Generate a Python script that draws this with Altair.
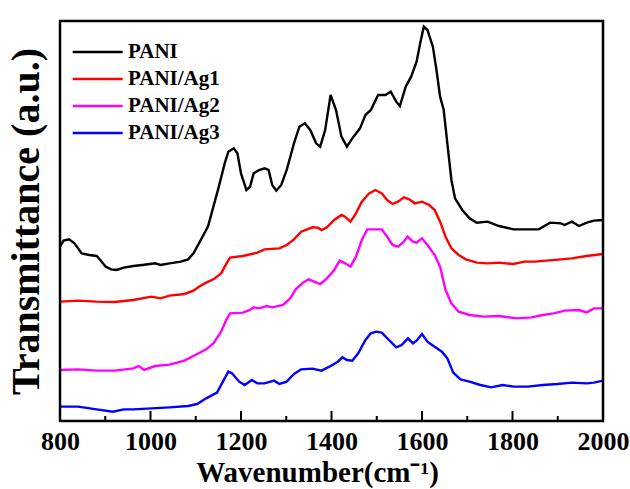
import altair as alt
import pandas as pd

FONT = "Liberation Serif"

series = ["PANI", "PANI/Ag1", "PANI/Ag2", "PANI/Ag3"]
colors = ["#000000", "#ff0000", "#ff00ff", "#0000ff"]

# PANI (black)
wn_pani = [800, 808, 820, 832, 848, 865, 881, 889, 901, 913, 925, 941, 962, 982, 1010, 1022, 1042, 1067,
           1083, 1095, 1111, 1127, 1139, 1151, 1164, 1172, 1184, 1192, 1200, 1212, 1220, 1228, 1240, 1252,
           1261, 1269, 1278, 1289, 1301, 1317, 1329, 1341, 1353, 1366, 1375, 1386, 1398, 1410, 1422, 1434,
           1446, 1463, 1475, 1487, 1503, 1519, 1531, 1543, 1551, 1564, 1576, 1588, 1596, 1604, 1612, 1624,
           1632, 1640, 1648, 1656, 1665, 1673, 1689, 1705, 1721, 1745, 1770, 1802, 1834, 1858, 1883, 1907,
           1915, 1931, 1947, 1964, 1980, 2000]
t_pani = [510, 528, 532, 520, 490, 485, 482, 470, 450, 442, 440, 447, 452, 455, 460, 455, 460, 465,
          472, 490, 530, 570, 630, 690, 760, 795, 805, 790, 730, 680, 690, 730, 740, 745,
          740, 695, 678, 695, 740, 820, 870, 880, 860, 820, 810, 860, 965, 920, 840, 810,
          835, 865, 905, 920, 965, 965, 975, 945, 932, 990, 1020, 1065, 1120, 1170, 1160, 1110,
          1040, 960, 920, 820, 710, 655, 620, 595, 582, 585, 572, 562, 562, 562, 582, 580,
          575, 585, 572, 582, 588, 590]

# PANI/Ag1 (red)
wn_ag1 = [800, 840, 881, 921, 962, 1002, 1022, 1042, 1075, 1095, 1107, 1123, 1139, 1156, 1168, 1176,
          1204, 1236, 1252, 1285, 1301, 1317, 1333, 1358, 1370, 1378, 1390, 1406, 1422, 1430, 1442, 1454,
          1467, 1483, 1497, 1511, 1523, 1535, 1547, 1560, 1572, 1584, 1600, 1616, 1628, 1640, 1652, 1665,
          1681, 1697, 1721, 1745, 1770, 1802, 1826, 1850, 1875, 1907, 1931, 1964, 2000]
t_ag1 = [345, 348, 345, 344, 350, 360, 355, 363, 368, 378, 390, 402, 412, 430, 460, 477,
         482, 492, 502, 505, 515, 532, 555, 568, 567, 560, 568, 590, 605, 600, 585, 610,
         645, 670, 680, 670, 650, 638, 645, 658, 652, 640, 645, 635, 620, 585, 540, 505,
         485, 472, 462, 460, 462, 458, 465, 465, 468, 472, 475, 482, 488]

# PANI/Ag2 (magenta)
wn_ag2 = [800, 840, 881, 921, 962, 974, 986, 1010, 1042, 1075, 1099, 1123, 1139, 1156, 1168, 1176,
          1204, 1220, 1228, 1240, 1257, 1269, 1293, 1309, 1321, 1337, 1349, 1362, 1375, 1390, 1406, 1418,
          1430, 1442, 1454, 1467, 1479, 1495, 1511, 1523, 1535, 1547, 1560, 1568, 1580, 1588, 1600, 1612,
          1628, 1640, 1652, 1665, 1681, 1705, 1737, 1770, 1810, 1842, 1867, 1891, 1915, 1947, 1964, 1980, 2000]
t_ag2 = [140, 142, 138, 138, 145, 152, 140, 152, 156, 168, 185, 202, 220, 255, 292, 310,
         312, 320, 328, 325, 332, 328, 335, 355, 382, 402, 412, 405, 398, 415, 440, 468,
         460, 450, 480, 530, 562, 562, 562, 540, 515, 510, 525, 540, 525, 522, 535, 515,
         485, 450, 380, 340, 315, 305, 300, 302, 295, 298, 305, 310, 318, 320, 313, 325, 325]

# PANI/Ag3 (blue)
wn_ag3 = [800, 840, 881, 917, 941, 962, 1002, 1042, 1083, 1103, 1123, 1147, 1160, 1172, 1180, 1196,
          1208, 1224, 1236, 1252, 1273, 1285, 1301, 1317, 1333, 1358, 1378, 1398, 1414, 1424, 1434, 1446,
          1459, 1475, 1487, 1499, 1511, 1527, 1543, 1555, 1569, 1580, 1588, 1600, 1612, 1628, 1644, 1656,
          1669, 1685, 1705, 1729, 1753, 1778, 1802, 1834, 1867, 1899, 1931, 1964, 1980, 2000]
t_ag3 = [30, 30, 22, 15, 22, 22, 25, 28, 32, 38, 55, 72, 105, 135, 130, 105,
         95, 110, 100, 100, 108, 98, 105, 128, 142, 144, 138, 152, 165, 178, 170, 168,
         190, 230, 250, 255, 252, 230, 208, 215, 235, 220, 228, 248, 225, 210, 195, 175,
         132, 112, 105, 95, 88, 95, 90, 90, 95, 98, 102, 100, 102, 108]

major_ticks = [800, 1000, 1200, 1400, 1600, 1800, 2000]
minor_ticks = [900, 1100, 1300, 1500, 1700, 1900]

rows = []
for name, xs, ys in zip(series, [wn_pani, wn_ag1, wn_ag2, wn_ag3], [t_pani, t_ag1, t_ag2, t_ag3]):
    for x, y in zip(xs, ys):
        rows.append({"wn": x, "t": y, "sample": name})
df = pd.DataFrame(rows)
major_df = pd.DataFrame({"wn": major_ticks})
minor_df = pd.DataFrame({"wn": minor_ticks})
frame_df = pd.DataFrame({"k": [0]})

x_enc = alt.X("wn:Q", scale=alt.Scale(domain=[800, 2000], nice=False, zero=False),
              axis=alt.Axis(values=major_ticks, ticks=False, domain=False, grid=False, labelPadding=7.5,
                            labelFont=FONT, labelFontSize=26, labelFontWeight="bold", labelColor="black",
                            labelFlush=False, format="d",
                            title="Wavenumber(cm⁻¹)", titleFont=FONT, titleFontSize=29,
                            titleFontWeight="bold", titleColor="black", titlePadding=4, titleX=257))

lines = alt.Chart(df).mark_line(strokeWidth=2.4).encode(
    x=x_enc,
    y=alt.Y("t:Q", scale=alt.Scale(domain=[-13, 1187], nice=False, zero=False),
            axis=alt.Axis(title="Transmittance (a.u.)", labels=False, ticks=False, domain=False,
                          grid=False, titleFont=FONT, titleFontSize=40, titleFontWeight="bold",
                          titleColor="black", titlePadding=14)),
    color=alt.Color("sample:N", sort=series, scale=alt.Scale(domain=series, range=colors),
                    legend=alt.Legend(title=None, orient="none", legendX=21.2, legendY=14.5, padding=0,
                                      symbolType="M-1.667,0H1.667", symbolSize=900, symbolStrokeWidth=2.6,
                                      labelFont=FONT, labelFontSize=21, labelFontWeight="bold",
                                      labelColor="black", labelOffset=13.8, rowPadding=0)),
    detail="sample:N",
)

major = alt.Chart(major_df).mark_rule(strokeWidth=2, color="black").encode(
    x=x_enc, y=alt.value(400), y2=alt.value(390),
)
minor = alt.Chart(minor_df).mark_rule(strokeWidth=2, color="black").encode(
    x=x_enc, y=alt.value(400), y2=alt.value(395),
)
frame = alt.Chart(frame_df).mark_rect(filled=False, stroke="black", strokeWidth=2.5, fillOpacity=0).encode(
    x=alt.value(0), x2=alt.value(543), y=alt.value(0), y2=alt.value(400),
)

chart = alt.layer(lines, major, minor, frame).properties(
    width=543, height=400,
    background="white",
    autosize=alt.AutoSizeParams(type="none"),
    padding={"left": 60, "top": 21, "right": 27, "bottom": 68},
).configure_view(stroke="black", strokeWidth=2)

chart.save("out.html", embed_options={"renderer": "svg", "actions": False})
